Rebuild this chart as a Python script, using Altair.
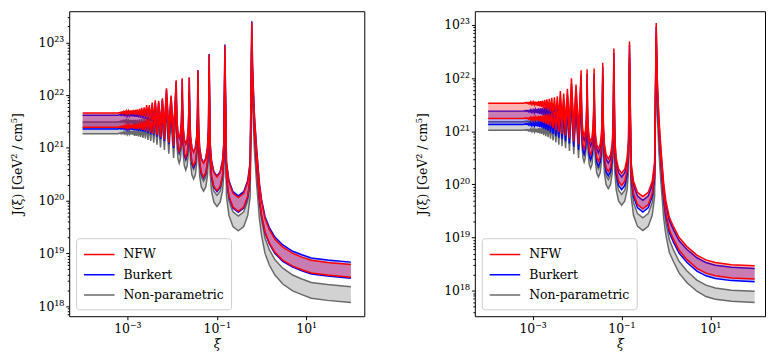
import math
import altair as alt
import pandas as pd

FONT = "DejaVu Serif Condensed, DejaVu Serif, serif"
PROFILES = ["NFW", "Burkert", "Non-parametric"]
COLORS = ["#ff0000", "#0000ff", "#696969"]

# resonance positions xi_n (n = 1..30), read from the spikes
XI_PEAK = [0.608, 0.152, 0.0676, 0.0380, 0.0243, 0.0169, 0.0124, 0.00950, 0.00751, 0.00608,
           0.00502, 0.00422, 0.00360, 0.00310, 0.00270, 0.00238, 0.00210, 0.00188, 0.00168, 0.00152,
           0.00138, 0.00126, 0.00115, 0.00106, 0.000973, 0.000899, 0.000834, 0.000776, 0.000723, 0.000676]
PLATEAU_XI = [1e-4, 6.2e-4]
TAIL_XI = [0.63, 0.65, 0.7, 0.78, 0.9, 1.0, 1.2, 1.5, 2.0, 3.0, 5.0, 8.0, 13, 30, 100]
# shape of the wide troughs (log10 rise above the trough minimum at fractions of the gap)
U_FRAC = [0.06, 0.15, 0.30, 0.50, 0.70, 0.85, 0.94]
U_RISE = [0.65, 0.29, 0.08, 0.00, 0.08, 0.29, 0.65]
U_INTERVALS = 6

# ---------- left panel (log10 J) ----------
L_PEAK = [23.37, 22.94, 22.77, 22.47, 22.34, 22.32, 22.28, 21.99, 22.13, 21.94, 21.89, 21.90, 21.86, 21.81, 21.81,
          21.77, 21.76, 21.74, 21.73, 21.72, 21.72, 21.71, 21.71, 21.70, 21.70, 21.69, 21.69, 21.68, 21.68, 21.67]
L_NFW_HI = [20.06, 20.45, 20.71, 20.92, 21.08, 21.20, 21.29, 21.36, 21.42, 21.46, 21.50, 21.53, 21.55, 21.57, 21.59,
            21.60, 21.61, 21.62, 21.63, 21.63, 21.64, 21.64, 21.65, 21.65, 21.65, 21.66, 21.66, 21.66, 21.66]
L_NFW_LO = [19.80, 20.19, 20.45, 20.66, 20.82, 20.94, 21.03, 21.10, 21.16, 21.20, 21.24, 21.27, 21.29, 21.31, 21.33,
            21.34, 21.35, 21.35, 21.36, 21.36, 21.37, 21.37, 21.38, 21.38, 21.38, 21.39, 21.39, 21.39, 21.39]
L_BUR_HI = [20.09, 20.47, 20.72, 20.92, 21.07, 21.18, 21.27, 21.34, 21.39, 21.43, 21.47, 21.49, 21.51, 21.53, 21.55,
            21.56, 21.57, 21.58, 21.59, 21.59, 21.60, 21.60, 21.61, 21.61, 21.61, 21.62, 21.62, 21.62, 21.62]
L_BUR_LO = [19.78, 20.17, 20.43, 20.63, 20.79, 20.91, 21.00, 21.07, 21.13, 21.17, 21.21, 21.24, 21.26, 21.28, 21.30,
            21.31, 21.32, 21.32, 21.33, 21.33, 21.34, 21.34, 21.35, 21.35, 21.35, 21.36, 21.36, 21.36, 21.36]
L_NP_HI = [19.71, 20.10, 20.37, 20.59, 20.76, 20.89, 20.99, 21.07, 21.14, 21.19, 21.24, 21.28, 21.31, 21.34, 21.37,
           21.39, 21.40, 21.42, 21.43, 21.44, 21.45, 21.46, 21.47, 21.47, 21.48, 21.49, 21.49, 21.49, 21.49]
L_NP_LO = [19.43, 19.89, 20.18, 20.41, 20.58, 20.71, 20.81, 20.89, 20.96, 21.01, 21.06, 21.10, 21.13, 21.15, 21.18,
           21.19, 21.21, 21.22, 21.23, 21.23, 21.25, 21.25, 21.26, 21.26, 21.26, 21.27, 21.27, 21.27, 21.27]
L_PLATEAU = {"NFW": (21.66, 21.39), "Burkert": (21.62, 21.36), "Non-parametric": (21.49, 21.27)}
L_NFW_HI_TAIL = [22.60, 22.20, 21.55, 20.95, 20.30, 20.00, 19.66, 19.45, 19.27, 19.12, 19.00, 18.93, 18.87, 18.83, 18.79]
L_NFW_LO_TAIL = [22.34, 21.94, 21.29, 20.69, 20.04, 19.74, 19.41, 19.20, 19.02, 18.87, 18.76, 18.69, 18.63, 18.59, 18.55]
L_BUR_HI_TAIL = [22.63, 22.23, 21.58, 20.98, 20.33, 20.03, 19.70, 19.49, 19.31, 19.16, 19.04, 18.975, 18.915, 18.875, 18.835]
L_BUR_LO_TAIL = [22.32, 21.92, 21.27, 20.67, 20.02, 19.72, 19.39, 19.18, 19.00, 18.85, 18.74, 18.67, 18.61, 18.57, 18.53]
L_NP_HI_TAIL = [22.25, 21.85, 21.20, 20.60, 19.94, 19.64, 19.29, 19.07, 18.88, 18.72, 18.59, 18.515, 18.45, 18.41, 18.37]
L_NP_LO_TAIL = [21.97, 21.57, 20.92, 20.32, 19.66, 19.35, 19.00, 18.78, 18.59, 18.42, 18.29, 18.22, 18.15, 18.11, 18.07]

# ---------- right panel (log10 J) ----------
R_PEAK = [23.04, 22.69, 22.56, 22.29, 22.18, 22.17, 22.15, 21.88, 22.00, 21.80, 21.71, 21.76, 21.66, 21.64, 21.63,
          21.61, 21.60, 21.59, 21.58, 21.57, 21.57, 21.56, 21.56, 21.55, 21.55, 21.55, 21.54, 21.54, 21.54, 21.54]
R_NFW_HI = [19.77, 20.21, 20.48, 20.67, 20.81, 20.92, 21.00, 21.07, 21.13, 21.18, 21.22, 21.26, 21.30, 21.34, 21.37,
            21.40, 21.42, 21.44, 21.46, 21.47, 21.48, 21.49, 21.50, 21.51, 21.51, 21.52, 21.52, 21.53, 21.53]
R_NFW_LO = [19.54, 19.98, 20.24, 20.43, 20.56, 20.67, 20.75, 20.81, 20.87, 20.92, 20.95, 20.99, 21.02, 21.06, 21.09,
            21.12, 21.14, 21.16, 21.18, 21.19, 21.20, 21.21, 21.21, 21.22, 21.22, 21.23, 21.23, 21.24, 21.24]
R_BUR_HI = [19.70, 20.14, 20.40, 20.59, 20.72, 20.83, 20.90, 20.97, 21.02, 21.07, 21.10, 21.14, 21.16, 21.20, 21.23,
            21.26, 21.28, 21.30, 21.32, 21.33, 21.34, 21.35, 21.35, 21.36, 21.36, 21.37, 21.37, 21.38, 21.38]
R_BUR_LO = [19.48, 19.90, 20.16, 20.34, 20.47, 20.57, 20.65, 20.71, 20.77, 20.81, 20.85, 20.88, 20.91, 20.95, 20.98,
            21.01, 21.03, 21.05, 21.07, 21.08, 21.09, 21.10, 21.10, 21.11, 21.11, 21.12, 21.12, 21.13, 21.13]
R_NP_HI = [19.37, 19.81, 20.09, 20.29, 20.44, 20.55, 20.64, 20.71, 20.77, 20.83, 20.87, 20.91, 20.95, 20.99, 21.02,
           21.05, 21.07, 21.09, 21.11, 21.12, 21.13, 21.14, 21.15, 21.16, 21.16, 21.17, 21.17, 21.18, 21.18]
R_NP_LO = [19.13, 19.61, 19.92, 20.14, 20.30, 20.42, 20.50, 20.57, 20.63, 20.68, 20.72, 20.75, 20.79, 20.83, 20.86,
           20.89, 20.91, 20.93, 20.95, 20.96, 20.97, 20.98, 20.99, 21.00, 21.00, 21.01, 21.01, 21.02, 21.02]
R_PLATEAU = {"NFW": (21.53, 21.24), "Burkert": (21.38, 21.13), "Non-parametric": (21.18, 21.02)}
R_NFW_HI_TAIL = [22.27, 21.87, 21.24, 20.65, 20.00, 19.70, 19.38, 19.20, 19.00, 18.83, 18.67, 18.58, 18.53, 18.49, 18.47]
R_NFW_LO_TAIL = [22.04, 21.64, 21.01, 20.42, 19.77, 19.47, 19.145, 18.96, 18.76, 18.585, 18.42, 18.33, 18.28, 18.24, 18.22]
R_BUR_HI_TAIL = [22.20, 21.80, 21.17, 20.58, 19.93, 19.63, 19.315, 19.14, 18.94, 18.775, 18.62, 18.53, 18.48, 18.44, 18.42]
R_BUR_LO_TAIL = [21.98, 21.58, 20.95, 20.36, 19.71, 19.41, 19.09, 18.905, 18.705, 18.53, 18.37, 18.28, 18.23, 18.19, 18.17]
R_NP_HI_TAIL = [21.87, 21.47, 20.84, 20.25, 19.59, 19.28, 18.96, 18.76, 18.55, 18.37, 18.20, 18.105, 18.05, 18.01, 17.99]
R_NP_LO_TAIL = [21.63, 21.23, 20.60, 20.01, 19.35, 19.05, 18.72, 18.54, 18.33, 18.15, 17.99, 17.89, 17.84, 17.80, 17.78]


def build_line(peaks, ref_trough, trough, plateau, tail):
    pts = [(PLATEAU_XI[0], plateau), (PLATEAU_XI[1], plateau)]
    n_peaks = len(XI_PEAK)
    k_max = len(trough)
    for n in range(n_peaks, 0, -1):
        ko = min(n, k_max) - 1
        pts.append((XI_PEAK[n - 1], peaks[n - 1] + trough[ko] - ref_trough[ko]))
        if n > 1:
            k = n - 1
            a = math.log10(XI_PEAK[n - 1])
            b = math.log10(XI_PEAK[n - 2])
            t = trough[k - 1]
            if k <= U_INTERVALS:
                for f, r in zip(U_FRAC, U_RISE):
                    pts.append((10 ** (a + f * (b - a)), t + r))
            else:
                pts.append((10 ** ((a + b) / 2), t))
    for x, v in zip(TAIL_XI, tail):
        pts.append((x, v))
    return pts


PANEL_DATA = {
    "left": (L_PEAK, L_NFW_HI, L_PLATEAU, {
        "NFW": (L_NFW_HI, L_NFW_LO, L_NFW_HI_TAIL, L_NFW_LO_TAIL),
        "Burkert": (L_BUR_HI, L_BUR_LO, L_BUR_HI_TAIL, L_BUR_LO_TAIL),
        "Non-parametric": (L_NP_HI, L_NP_LO, L_NP_HI_TAIL, L_NP_LO_TAIL)}),
    "right": (R_PEAK, R_NFW_HI, R_PLATEAU, {
        "NFW": (R_NFW_HI, R_NFW_LO, R_NFW_HI_TAIL, R_NFW_LO_TAIL),
        "Burkert": (R_BUR_HI, R_BUR_LO, R_BUR_HI_TAIL, R_BUR_LO_TAIL),
        "Non-parametric": (R_NP_HI, R_NP_LO, R_NP_HI_TAIL, R_NP_LO_TAIL)}),
}

rows = []
for panel, (peaks, ref, plat, profs) in PANEL_DATA.items():
    for prof, (hi, lo, hi_t, lo_t) in profs.items():
        up = build_line(peaks, ref, hi, plat[prof][0], hi_t)
        dn = build_line(peaks, ref, lo, plat[prof][1], lo_t)
        for (x, u), (_, d) in zip(up, dn):
            rows.append({"panel": panel, "profile": prof, "xi": x, "upper": 10 ** u, "lower": 10 ** d})
df = pd.DataFrame(rows)

SUP = str.maketrans("0123456789-", "⁰¹²³⁴⁵⁶⁷⁸⁹⁻")


def label_expr(exps):
    parts = []
    for e in exps:
        parts.append(f"abs(datum.value - 1e{e}) < 1e{e - 3} ? '10{str(e).translate(SUP)}'")
    return " : ".join(parts) + " : ''"


MAJOR = "abs(log(datum.value)/LN10 - round(log(datum.value)/LN10)) < 0.001"


def make_panel(panel, ylo, yhi, xhi, width):
    data = df[df.panel == panel]
    yvals = []
    for e in range(17, 24):
        for m in range(1, 10):
            v = float(f"{m}e{e}")
            if 10 ** ylo <= v <= 10 ** yhi:
                yvals.append(v)
    major_exps = [e for e in range(17, 24) if 10 ** ylo <= 10 ** e <= 10 ** yhi]
    xs = alt.Scale(type="log", domain=[10 ** -4.3, 10 ** xhi], nice=False)
    ys = alt.Scale(type="log", domain=[10 ** ylo, 10 ** yhi], nice=False)
    xax = alt.Axis(values=[1e-3, 1e-1, 1e1], labelExpr=label_expr([-3, -1, 1]), tickSize=3.5,
                   labelPadding=2, title="ξ", titleFontStyle="italic", titlePadding=1,
                   labelFont=FONT, titleFont=FONT)
    yax = alt.Axis(values=yvals, labelExpr=label_expr(major_exps),
                   tickSize={"condition": {"test": MAJOR, "value": 3.5}, "value": 2},
                   labelPadding=2, title="J(ξ) [GeV² / cm⁵]", titlePadding=14,
                   labelFont=FONT, titleFont=FONT)
    cs = alt.Scale(domain=PROFILES, range=COLORS)
    leg = alt.Legend(title=None, orient="bottom-left", offset=7, symbolType="M-1.82,0L1.82,0",
                     symbolStrokeWidth=1.5, symbolSize=289, symbolOffset=7, labelFont=FONT,
                     labelFontSize=14, labelOffset=15, fillColor="white", strokeColor="#cccccc",
                     cornerRadius=3, padding=7, rowPadding=3.5, labelColor="black", labelLimit=300)
    layers = []
    for prof in ["Non-parametric", "Burkert", "NFW"]:
        col = COLORS[PROFILES.index(prof)]
        sub = alt.Chart(data[data.profile == prof])
        X = alt.X("xi:Q", scale=xs, axis=xax)
        layers.append(sub.mark_area(color=col, opacity=0.3).encode(
            x=X, y=alt.Y("upper:Q", scale=ys, axis=yax), y2="lower:Q"))
        for fld in ["upper", "lower"]:
            layers.append(sub.mark_line(strokeWidth=1.5).encode(
                x=X, y=alt.Y(f"{fld}:Q", scale=ys, axis=yax),
                color=alt.Color("profile:N", scale=cs, legend=leg)))
    return alt.layer(*layers).properties(width=width, height=309)


left = make_panel("left", 17.81, 23.59, 2.3, 299)
right = make_panel("right", 17.52, 23.26, -4.3 + 294 / 45.0, 294)

chart = (
    alt.hconcat(left, right, spacing=50)
    .resolve_scale(color="independent")
    .properties(padding={"left": 1, "top": 0, "right": 0, "bottom": 0})
    .configure(font=FONT)
    .configure_view(stroke="black", strokeWidth=1)
    .configure_axis(labelFontSize=14, titleFontSize=14,
                    titleFontWeight="normal", labelColor="black", titleColor="black",
                    tickColor="black", tickWidth=1, domain=False, grid=False)
)

chart.save("out.html", embed_options={"renderer": "svg", "actions": False})
